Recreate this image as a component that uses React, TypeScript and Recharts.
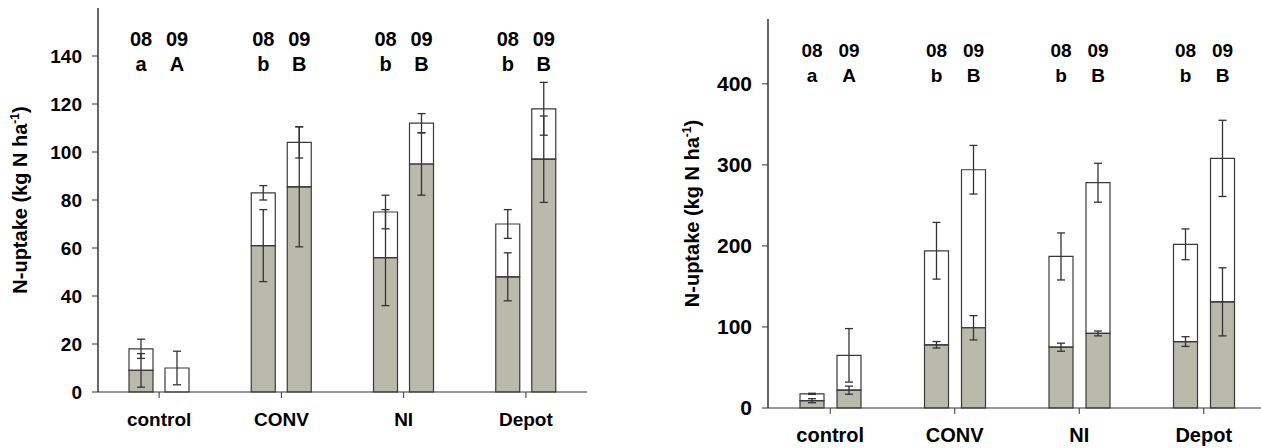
import React from 'react';
import { BarChart, Bar, XAxis, YAxis, ErrorBar, LabelList, Label } from 'recharts';

const categories = ['control', 'CONV', 'NI', 'Depot'];
const years = ['08', '09'];
const letters08 = ['a', 'b', 'b', 'b'];
const letters09 = ['A', 'B', 'B', 'B'];

// left panel (kg N / ha)
const leftGray08 = [9, 61, 56, 48];
const leftGray08Err = [7, 15, 20, 10];
const leftTotal08 = [18, 83, 75, 70];
const leftTotal08Err = [4, 3, 7, 6];
const leftGray09 = [0, 85.5, 95, 97];
const leftGray09Err = [0, 25, 13, 18];
const leftTotal09 = [10, 104, 112, 118];
const leftTotal09Err = [7, 6.5, 4, 11];
const leftTicks = [0, 20, 40, 60, 80, 100, 120, 140];

// right panel
const rightGray08 = [9, 78, 75, 82];
const rightGray08Err = [2.5, 4, 5, 6];
const rightTotal08 = [17.5, 194, 187, 202];
const rightTotal08Err = [0.7, 35, 29, 19];
const rightGray09 = [22, 99, 92, 131];
const rightGray09Err = [5, 15, 3, 42];
const rightTotal09 = [65, 294, 278, 308];
const rightTotal09Err = [33, 30, 24, 47];
const rightTicks = [0, 100, 200, 300, 400];

const FONT = 'Arial, "Liberation Sans", Helvetica, sans-serif';
const GRAY = '#b9b9ac';
const EDGE = '#3a3a3a';

function buildRows(g08, g08e, t08, t08e, g09, g09e, t09, t09e) {
  return categories.map((name, i) => ({
    name,
    g08: g08[i],
    w08: t08[i] - g08[i],
    g08e: g08e[i],
    t08e: t08e[i],
    g09: g09[i],
    w09: t09[i] - g09[i],
    g09e: g09e[i],
    t09e: t09e[i],
    l08: letters08[i],
    l09: letters09[i],
  }));
}

const leftRows = buildRows(
  leftGray08, leftGray08Err, leftTotal08, leftTotal08Err,
  leftGray09, leftGray09Err, leftTotal09, leftTotal09Err
);
const rightRows = buildRows(
  rightGray08, rightGray08Err, rightTotal08, rightTotal08Err,
  rightGray09, rightGray09Err, rightTotal09, rightTotal09Err
);

function annotation(year: string, top: number, fontSize: number) {
  return (props: any) => {
    const cx = Number(props.x) + Number(props.width) / 2;
    const style = { fontFamily: FONT, fontWeight: 'bold' as const, fontSize };
    return (
      <g>
        <text x={cx} y={top + 31} textAnchor="middle" dominantBaseline="central" fill="#000" style={style}>
          {year}
        </text>
        <text x={cx} y={top + 56} textAnchor="middle" dominantBaseline="central" fill="#000" style={style}>
          {props.value}
        </text>
      </g>
    );
  };
}

interface PanelProps {
  rows: any[];
  ticks: number[];
  yMax: number;
  width: number;
  height: number;
  top: number;
  right: number;
  yAxisWidth: number;
  xAxisHeight: number;
  padRight: number;
  tickFont: number;
  xFont: number;
  annFont: number;
  titleFont: number;
  titleX: number;
  xTickMargin: number;
  barSize: number;
  barGap: number;
}

function Panel(p: PanelProps) {
  const plotH = p.height - p.top - p.xAxisHeight;
  const titleY = p.top + plotH / 2;
  const tickStyle = { fontSize: p.tickFont, fontWeight: 'bold', fill: '#000', fontFamily: FONT };
  return (
    <BarChart
      width={p.width}
      height={p.height}
      data={p.rows}
      margin={{ top: p.top, right: p.right, bottom: 0, left: 0 }}
      barSize={p.barSize}
      barGap={p.barGap}
    >
      <XAxis
        dataKey="name"
        interval={0}
        height={p.xAxisHeight}
        padding={{ left: 0, right: p.padRight }}
        tickSize={6}
        tickMargin={p.xTickMargin}
        tick={{ ...tickStyle, fontSize: p.xFont }}
        axisLine={{ stroke: '#333', strokeWidth: 1.2 }}
        tickLine={{ stroke: '#333' }}
      />
      <XAxis
        xAxisId="top"
        dataKey="name"
        orientation="top"
        height={0}
        tick={false}
        tickLine={false}
        axisLine={{ stroke: '#000', strokeWidth: 1.2 }}
      />
      <YAxis
        domain={[0, p.yMax]}
        ticks={p.ticks}
        width={p.yAxisWidth}
        tickSize={6}
        tickMargin={10}
        tick={tickStyle}
        axisLine={{ stroke: '#000', strokeWidth: 1.2 }}
        tickLine={{ stroke: '#333' }}
      >
        <Label
          content={() => (
            <text
              x={p.titleX}
              y={titleY}
              transform={`rotate(-90, ${p.titleX}, ${titleY})`}
              textAnchor="middle"
              fill="#000"
              style={{ fontFamily: FONT, fontWeight: 'bold', fontSize: p.titleFont }}
            >
              N-uptake (kg N ha
              <tspan dy={-8} fontSize={p.titleFont * 0.6}>-1</tspan>
              <tspan dy={8}>)</tspan>
            </text>
          )}
        />
      </YAxis>
      <YAxis
        yAxisId="right"
        orientation="right"
        domain={[0, p.yMax]}
        width={0}
        tick={false}
        tickLine={false}
        axisLine={{ stroke: '#000', strokeWidth: 1.2 }}
      />
      <Bar dataKey="g08" stackId="08" fill={GRAY} stroke={EDGE} strokeWidth={1.2} isAnimationActive={false}>
        <ErrorBar dataKey="g08e" width={4} stroke="#333" strokeWidth={1.3} />
      </Bar>
      <Bar dataKey="w08" stackId="08" fill="#ffffff" fillOpacity={0} stroke={EDGE} strokeWidth={1.2} isAnimationActive={false}>
        <ErrorBar dataKey="t08e" width={4} stroke="#333" strokeWidth={1.3} />
        <LabelList dataKey="l08" content={annotation(years[0], p.top, p.annFont)} />
      </Bar>
      <Bar dataKey="g09" stackId="09" fill={GRAY} stroke={EDGE} strokeWidth={1.2} isAnimationActive={false}>
        <ErrorBar dataKey="g09e" width={4} stroke="#333" strokeWidth={1.3} />
      </Bar>
      <Bar dataKey="w09" stackId="09" fill="#ffffff" fillOpacity={0} stroke={EDGE} strokeWidth={1.2} isAnimationActive={false}>
        <ErrorBar dataKey="t09e" width={4} stroke="#333" strokeWidth={1.3} />
        <LabelList dataKey="l09" content={annotation(years[1], p.top, p.annFont)} />
      </Bar>
    </BarChart>
  );
}

export default function App() {
  return (
    <div
      style={{
        position: 'fixed',
        left: 0,
        top: 0,
        width: 1261,
        height: 448,
        overflow: 'hidden',
        background: '#fff',
      }}
    >
      <div style={{ position: 'absolute', left: 0, top: 0 }}>
        <Panel
          rows={leftRows}
          ticks={leftTicks}
          yMax={160}
          width={620}
          height={448}
          top={8}
          right={33}
          yAxisWidth={98}
          xAxisHeight={56}
          padRight={0}
          tickFont={19}
          xFont={19}
          annFont={20}
          titleFont={20}
          titleX={27}
          xTickMargin={15}
          barSize={24}
          barGap={12}
        />
      </div>
      <div style={{ position: 'absolute', left: 640, top: 0 }}>
        <Panel
          rows={rightRows}
          ticks={rightTicks}
          yMax={480}
          width={660}
          height={448}
          top={19}
          right={0}
          yAxisWidth={128}
          xAxisHeight={40}
          padRight={34}
          tickFont={21}
          xFont={20}
          annFont={19}
          titleFont={20}
          titleX={59}
          xTickMargin={14}
          barSize={24}
          barGap={13}
        />
      </div>
    </div>
  );
}
